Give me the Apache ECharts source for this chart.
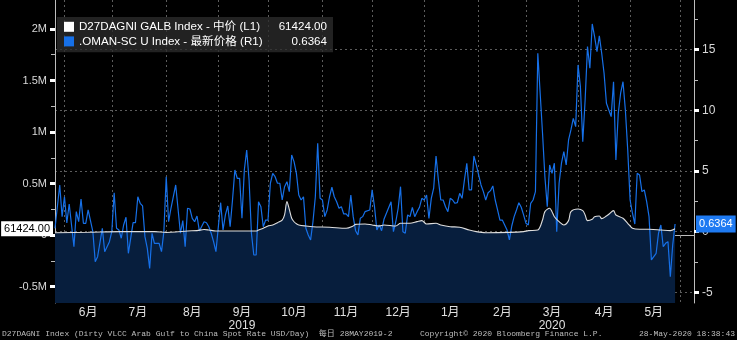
<!DOCTYPE html>
<html><head><meta charset="utf-8">
<script src="https://cdn.jsdelivr.net/npm/echarts@6/dist/echarts.min.js"></script>
<style>html,body{margin:0;padding:0;background:#000;}#c{width:737px;height:340px;}</style>
</head><body><div id="c"></div>
<script>
// Business-day calendar of the x axis (Bloomberg trading-day axis)
const START_DATE = '2019-05-28';
const END_DATE = '2020-06-09';

const seriesNames = ['D27DAGNI GALB Index - 中价 (L1)', '.OMAN-SC U Index - 最新价格 (R1)'];
const lastValueText = ['61424.00', '0.6364'];
const lastValues = [61424, 0.6364];

const leftTickValues = [-500000, 0, 500000, 1000000, 1500000, 2000000];
const leftTickLabels = ['-0.5M', '0', '0.5M', '1M', '1.5M', '2M'];
const leftMinorTicks = [-250000, 250000, 750000, 1250000, 1750000];
const rightTickValues = [-5, 0, 5, 10, 15];
const rightMinorTicks = [-2.5, 2.5, 7.5, 12.5, 17.5];
const monthNames = ['1月','2月','3月','4月','5月','6月','7月','8月','9月','10月','11月','12月'];
const yearLabelMonths = {'2019-09': '2019', '2020-03': '2020'};

// .OMAN-SC U Index, one value per business day starting 2019-05-28 (null = not read)
const omanValues = [
 0.28,null,3.85,1.24,2.88,0.72,2.28,null,-1.24,1.65,
 0.82,2.69,0.69,0.69,1.79,null,0,-2.47,-2.06,null,
 0.28,-1.65,null,-0.82,0,3.21,0.28,0.14,-0.54,0.55,
 1.19,-1.78,null,0.74,0.74,2.88,2.34,2.12,-0.41,-1.37,
 -3.02,-0.13,-0.96,null,-0.96,-1.65,0,4.53,0.82,1.93,
 null,3.85,null,-0.13,0.91,-1.24,1.93,1.87,1.10,0.82,
 1.29,0.06,null,0.82,0.74,0.41,-0.13,-0.82,-1.65,null,
 2.39,0.14,1.38,2.12,0.41,2.61,5.08,4.40,4.40,1.10,
 5.08,6.73,4.26,-0.13,-1.92,-1.92,2.47,2.06,0.41,0.96,
 0.96,3.99,4.81,4.53,3.99,3.99,2.61,3.71,4.12,3.30,
 6.32,5.77,4.81,3.02,2.61,2.88,0.28,-0.27,-0.68,0.82,
 2.88,7.28,2.75,2.61,1.24,1.79,2.88,3.66,2.88,2.47,
 1.93,2.06,1.46,1.46,1.24,3.02,1.24,0.08,-0.27,1.10,
 1.24,1.65,null,1.79,3.44,2.06,0.14,0.55,0.08,1.02,
 null,null,2.47,0,0.82,1.93,3.71,0,-0.13,1.38,
 1.24,2.01,1.24,1.65,2.01,2.75,2.61,3.02,1.10,2.75,
 3.58,6.24,4.26,2.61,2.61,2.06,1.65,2.75,2.61,2.34,
 2.39,3.16,2.75,4.26,5.64,3.44,3.44,6.24,5.50,null,
 3.85,3.30,2.61,3.21,3.38,3.77,2.61,1.79,0.96,0.96,
 0.55,0.14,-0.68,0.47,1.24,1.79,2.39,2.01,1.38,0.69,
 0.55,2.34,2.61,3.30,14.70,null,8.11,4.53,2.06,5.50,
 4.81,5.64,0,3.99,5.64,6.59,5.50,7.56,8.38,9.34,
 8.65,13.74,11.95,7.42,10.85,15.25,13.47,17.12,16.07,14.83,
 16.13,14.70,13.05,10.58,null,9.48,12.36,5.91,9.76,11.41,
 12.36,10.03,6.73,2.61,1.52,0.63,4.81,4.67,3.30,3.44,
 2.47,1.24,-2.33,null,-1.78,-0.13,0.55,-1.24,-0.96,-0.82,
 -3.71,-1.10,0.6364
];

// D27DAGNI GALB Index (USD/day), read at selected business days
const galbDates = [
 '2019-05-28','2019-06-17','2019-07-05','2019-07-25','2019-08-01','2019-08-07','2019-08-14','2019-08-20','2019-08-23','2019-08-27',
 '2019-08-30','2019-09-09','2019-09-24','2019-09-25','2019-09-27','2019-10-01','2019-10-03','2019-10-07','2019-10-09','2019-10-10',
 '2019-10-11','2019-10-14','2019-10-15','2019-10-16','2019-10-17','2019-10-18','2019-10-23','2019-10-28','2019-11-06','2019-11-15',
 '2019-11-20','2019-11-21','2019-11-27','2019-12-02','2019-12-05','2019-12-09','2019-12-16','2019-12-18','2019-12-24','2019-12-27',
 '2019-12-31','2020-01-02','2020-01-08','2020-01-10','2020-01-16','2020-01-22','2020-01-28','2020-01-31','2020-02-06','2020-02-20',
 '2020-02-28','2020-03-03','2020-03-09','2020-03-11','2020-03-12','2020-03-16','2020-03-17','2020-03-18','2020-03-20','2020-03-24',
 '2020-03-26','2020-03-27','2020-04-01','2020-04-03','2020-04-06','2020-04-07','2020-04-09','2020-04-10','2020-04-14','2020-04-15',
 '2020-04-17','2020-04-20','2020-04-22','2020-04-23','2020-04-28','2020-04-30','2020-05-04','2020-05-07','2020-05-13','2020-05-20',
 '2020-05-26','2020-05-28'
];
const galbValues = [
 24000,28000,34000,34000,26000,30000,41000,44000,55000,50000,
 41000,40000,40000,50000,67000,89000,99000,121000,147000,196000,
 325000,250000,164000,130000,110000,99000,89000,82000,77000,67000,
 89000,105000,109000,99000,89000,99000,89000,115000,115000,131000,
 141000,109000,115000,99000,82000,77000,50000,34000,24000,27000,
 34000,44000,50000,147000,228000,261000,228000,179000,131000,99000,
 141000,228000,254000,238000,196000,141000,154000,179000,186000,160000,
 186000,203000,238000,196000,164000,115000,67000,57000,57000,50000,
 44000,61424
];

const footLeft = 'D27DAGNI Index (Dirty VLCC Arab Gulf to China Spot Rate USD/Day)  每日 28MAY2019-2';
const footMid = 'Copyright\u00A9 2020 Bloomberg Finance L.P.';
const footRight = '28-May-2020 18:38:43';

// ---- build calendar ----
function businessDays(s, e) {
  const out = [];
  const d = new Date(s + 'T00:00:00Z');
  const end = new Date(e + 'T00:00:00Z');
  while (d <= end) {
    const w = d.getUTCDay();
    if (w !== 0 && w !== 6) out.push(d.toISOString().slice(0, 10));
    d.setUTCDate(d.getUTCDate() + 1);
  }
  return out;
}
const days = businessDays(START_DATE, END_DATE);
const monthStart = new Set();
const monthFirstIdx = [];
for (let i = 1; i < days.length; i++) {
  if (days[i].slice(0, 7) !== days[i - 1].slice(0, 7)) { monthStart.add(i); monthFirstIdx.push(i); }
}
const labelIdx = new Map();
for (let k = 0; k < monthFirstIdx.length - 1; k++) {
  const mid = Math.floor((monthFirstIdx[k] + monthFirstIdx[k + 1]) / 2);
  labelIdx.set(mid, days[monthFirstIdx[k]].slice(0, 7));
}
const janIdx = days.indexOf('2020-01-01');

const galbData = galbDates.map((d, i) => [d, galbValues[i]]);
const omanData = omanValues.map((v, i) => [days[i], v]);

const BLUE = '#1670e8';
const WHITE = '#dedede';
const NAVY = '#071e3d';
const GRID = '#5c5c5c';
const AXIS = '#bdbdbd';
const FONT = '"Liberation Sans", "Noto Sans CJK SC", sans-serif';

const chart = echarts.init(document.getElementById('c'), null, {renderer: 'canvas'});
const option = {
  backgroundColor: '#000',
  animation: false,
  textStyle: {fontFamily: FONT},
  grid: {left: 55, right: 43, top: 0, bottom: 37, containLabel: false},
  legend: {
    orient: 'vertical', left: 57, top: 17,
    itemWidth: 10, itemHeight: 10, itemGap: 3, icon: 'rect',
    backgroundColor: 'rgba(44,44,44,0.78)', padding: [4, 6, 5, 7],
    data: [
      {name: seriesNames[0], itemStyle: {color: '#ffffff'}},
      {name: seriesNames[1], itemStyle: {color: BLUE}}
    ],
    formatter: name => '{n|' + name + '}{v|' + lastValueText[seriesNames.indexOf(name)] + '}',
    textStyle: {
      color: '#fff', fontSize: 11.6, fontFamily: FONT,
      rich: {
        n: {width: 190, color: '#fff', fontSize: 11.6, fontFamily: FONT},
        v: {width: 58, align: 'right', color: '#fff', fontSize: 11.6, fontFamily: FONT}
      }
    }
  },
  xAxis: [{
    type: 'category', data: days, boundaryGap: false, position: 'bottom',
    axisLine: {show: true, lineStyle: {color: AXIS, width: 1}},
    axisTick: {show: true, length: 3, interval: (i) => monthStart.has(i), lineStyle: {color: '#888'}},
    splitLine: {show: true, interval: (i) => monthStart.has(i), lineStyle: {color: GRID, type: [2, 3], width: 1}},
    axisLabel: {
      show: true, interval: (i) => labelIdx.has(i), color: '#e0e0e0', fontSize: 12, lineHeight: 13, margin: 3,
      hideOverlap: false,
      formatter: (v, i) => {
        const ym = v.slice(0, 7);
        const m = monthNames[parseInt(v.slice(5, 7), 10) - 1];
        return yearLabelMonths[ym] ? m + '\n' + yearLabelMonths[ym] : m;
      }
    }
  }, {
    type: 'category', data: days, boundaryGap: false, position: 'bottom',
    axisLine: {show: false},
    axisTick: {show: true, length: 22, interval: (i) => i === janIdx, lineStyle: {color: '#999'}},
    axisLabel: {show: false}, splitLine: {show: false}
  }],
  yAxis: [{
    type: 'value', position: 'left', min: -658000, max: 2281000,
    axisLine: {show: true, lineStyle: {color: AXIS}},
    axisTick: {show: true, length: 5, customValues: leftTickValues, lineStyle: {color: '#fff', width: 3}},
    axisLabel: {
      show: true, customValues: leftTickValues, color: '#d8d8d8', fontSize: 11, margin: 8,
      formatter: v => leftTickLabels[leftTickValues.indexOf(v)]
    },
    splitLine: {show: false},
    axisPointer: {
      show: true, value: lastValues[0], status: 'show', snap: false, triggerTooltip: false,
      lineStyle: {opacity: 0},
      label: {show: true, formatter: () => lastValueText[0], backgroundColor: '#ffffff', color: '#000',
              fontSize: 11, padding: [2, 3, 2, 3], margin: 2, borderRadius: 0, fontFamily: FONT}
    }
  }, {
    type: 'value', position: 'right', min: -5.876, max: 19.09,
    axisLine: {show: true, lineStyle: {color: AXIS}},
    axisTick: {show: true, length: 5, customValues: rightTickValues, lineStyle: {color: '#fff', width: 3}},
    axisLabel: {show: true, customValues: rightTickValues, color: '#d8d8d8', fontSize: 12, margin: 8},
    splitLine: {show: true, lineStyle: {color: GRID, type: [2, 3], width: 1}},
    axisPointer: {
      show: true, value: lastValues[1], status: 'show', snap: false, triggerTooltip: false,
      lineStyle: {opacity: 0},
      label: {show: true, formatter: () => lastValueText[1], backgroundColor: '#1e7af2', color: '#fff',
              fontSize: 11, padding: [3, 3, 3, 3], margin: 2, borderRadius: 0, fontFamily: FONT}
    }
  }, {
    type: 'value', position: 'left', min: -658000, max: 2281000,
    axisLine: {show: false}, axisLabel: {show: false}, splitLine: {show: false},
    axisTick: {show: true, length: 4, customValues: leftMinorTicks, lineStyle: {color: '#bbb', width: 1}}
  }, {
    type: 'value', position: 'right', min: -5.876, max: 19.09,
    axisLine: {show: false}, axisLabel: {show: false}, splitLine: {show: false},
    axisTick: {show: true, length: 4, customValues: rightMinorTicks, lineStyle: {color: '#bbb', width: 1}}
  }],
  series: [{
    name: 'galbArea', type: 'line', xAxisIndex: 0, yAxisIndex: 0, data: galbData,
    showSymbol: false, silent: true, smooth: 0.3, z: 1,
    lineStyle: {width: 0},
    areaStyle: {color: NAVY, origin: 'start', opacity: 1}
  }, {
    name: seriesNames[1], type: 'line', xAxisIndex: 0, yAxisIndex: 1, data: omanData,
    showSymbol: false, connectNulls: true, z: 3,
    lineStyle: {color: BLUE, width: 1.2}, itemStyle: {color: BLUE}
  }, {
    name: seriesNames[0], type: 'line', xAxisIndex: 0, yAxisIndex: 0, data: galbData,
    showSymbol: false, smooth: 0.3, z: 4,
    lineStyle: {color: WHITE, width: 1.1}, itemStyle: {color: '#fff'}
  }],
  graphic: [
    {type: 'text', left: 2, top: 330, style: {text: footLeft, fill: '#bdbdbd', font: '8px "Liberation Mono", "Noto Sans CJK SC", monospace'}},
    {type: 'text', left: 420, top: 330, style: {text: footMid, fill: '#bdbdbd', font: '8px "Liberation Mono", monospace'}},
    {type: 'text', right: 2, top: 330, style: {text: footRight, fill: '#bdbdbd', font: '8px "Liberation Mono", monospace'}}
  ]
};
chart.setOption(option);
</script>
</body></html>
